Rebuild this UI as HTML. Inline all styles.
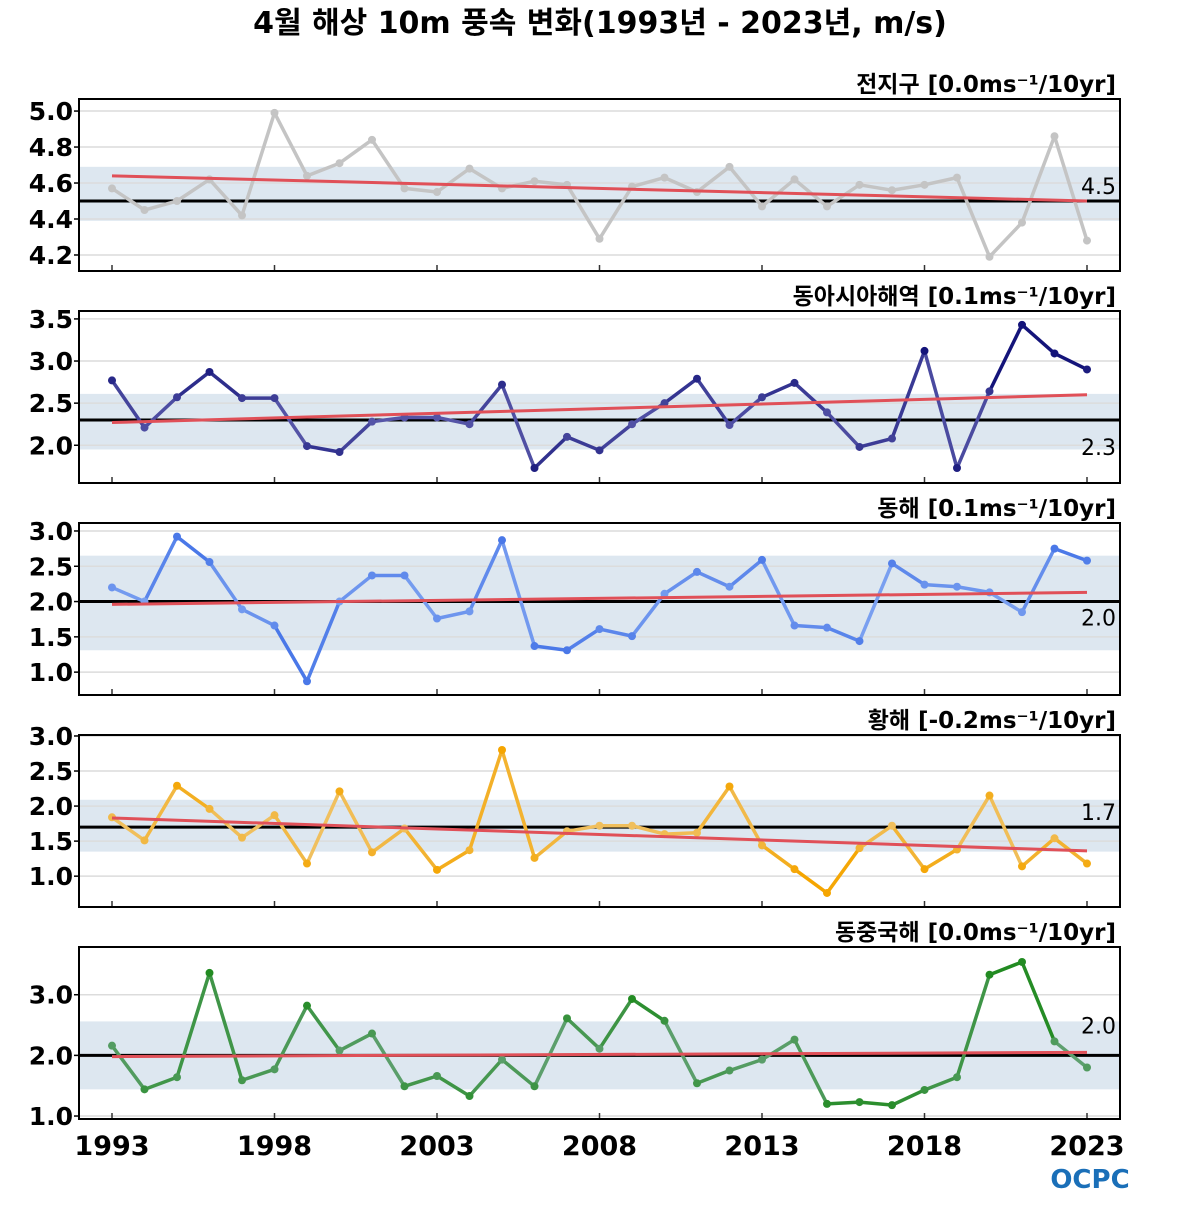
<!DOCTYPE html>
<html><head><meta charset="utf-8"><style>
body{margin:0;background:#fff;width:1200px;height:1200px;overflow:hidden}
svg{font-family:"DejaVu Sans","Liberation Sans","Noto Sans CJK KR",sans-serif}
</style></head><body>
<svg id="chart" width="1200" height="1200" xmlns="http://www.w3.org/2000/svg">
<text x="600" y="33" text-anchor="middle" font-size="30" font-weight="bold">4월 해상 10m 풍속 변화(1993년 - 2023년, m/s)</text>
<text x="1090" y="1188" text-anchor="middle" font-size="26" font-weight="bold" fill="#1a6fb8">OCPC</text>
</svg>
<script>
const years = [1993,1994,1995,1996,1997,1998,1999,2000,2001,2002,2003,2004,2005,2006,2007,2008,2009,2010,2011,2012,2013,2014,2015,2016,2017,2018,2019,2020,2021,2022,2023];
const xTicks = [1993,1998,2003,2008,2013,2018,2023];
const panelTitles = ["전지구 [0.0ms⁻¹/10yr]","동아시아해역 [0.1ms⁻¹/10yr]","동해 [0.1ms⁻¹/10yr]","황해 [-0.2ms⁻¹/10yr]","동중국해 [0.0ms⁻¹/10yr]"];
const globalVals = [4.57,4.45,4.50,4.62,4.42,4.99,4.64,4.71,4.84,4.57,4.55,4.68,4.57,4.61,4.59,4.29,4.58,4.63,4.55,4.69,4.47,4.62,4.47,4.59,4.56,4.59,4.63,4.19,4.38,4.86,4.28];
const eastAsiaVals = [2.77,2.21,2.57,2.87,2.56,2.56,1.99,1.92,2.28,2.33,2.33,2.25,2.72,1.73,2.10,1.94,2.25,2.50,2.79,2.24,2.57,2.74,2.39,1.98,2.08,3.12,1.73,2.64,3.43,3.09,2.90];
const eastSeaVals = [2.20,2.00,2.92,2.56,1.89,1.66,0.87,2.00,2.37,2.37,1.76,1.86,2.87,1.37,1.31,1.61,1.51,2.11,2.42,2.21,2.59,1.66,1.63,1.44,2.54,2.24,2.21,2.13,1.85,2.75,2.58];
const yellowSeaVals = [1.84,1.51,2.29,1.96,1.55,1.87,1.18,2.21,1.34,1.68,1.09,1.37,2.80,1.26,1.64,1.72,1.72,1.60,1.62,2.28,1.44,1.10,0.76,1.40,1.72,1.10,1.38,2.15,1.14,1.54,1.18];
const ecsVals = [2.16,1.44,1.64,3.36,1.59,1.77,2.82,2.08,2.36,1.49,1.66,1.33,1.93,1.49,2.61,2.11,2.93,2.57,1.54,1.75,1.93,2.26,1.20,1.23,1.18,1.43,1.64,3.33,3.54,2.23,1.80];
const means = [4.5,2.3,2.0,1.7,2.0];
const bandLow = [4.39,1.95,1.31,1.35,1.44];
const bandHigh = [4.69,2.61,2.65,2.09,2.56];
const trendStart = [4.64,2.27,1.96,1.83,1.98];
const trendEnd = [4.50,2.60,2.13,1.36,2.05];
const yTicks1 = [4.2,4.4,4.6,4.8,5.0];
const yTicks2 = [2.0,2.5,3.0,3.5];
const yTicks3 = [1.0,1.5,2.0,2.5,3.0];
const yTicks4 = [1.0,1.5,2.0,2.5,3.0];
const yTicks5 = [1.0,2.0,3.0];

const series=[globalVals,eastAsiaVals,eastSeaVals,yellowSeaVals,ecsVals];
const ticksAll=[yTicks1,yTicks2,yTicks3,yTicks4,yTicks5];
const names=["global","east-asia","east-sea","yellow-sea","east-china-sea"];
const panels=[{top:99,y0:4.111,y1:5.067},{top:311,y0:1.552,y1:3.594},{top:523,y0:0.676,y1:3.113},{top:735,y0:0.560,y1:3.014},{top:947,y0:0.951,y1:3.787}];
const colors=[["#c4c4c4","#c4c4c4"],["#5656a8","#14147a"],["#7aa0f0","#4a78e8"],["#f0c060","#f5a500"],["#5fa070","#228b22"]];
const labelOffset=[-7,35,24,-7,-22];
const L=79,R=1120,H=172;
const NS="http://www.w3.org/2000/svg";
const svg=document.getElementById('chart');
function xS(yr){return 112+(yr-1993)*(1087-112)/30;}
function mk(tag,attrs,parent){const e=document.createElementNS(NS,tag);for(const k in attrs)e.setAttribute(k,attrs[k]);(parent||svg).appendChild(e);return e;}
function mix(a,b,t){const pa=[1,3,5].map(i=>parseInt(a.substr(i,2),16)),pb=[1,3,5].map(i=>parseInt(b.substr(i,2),16));return 'rgb('+pa.map((v,i)=>Math.round(v+(pb[i]-v)*t)).join(',')+')';}
panels.forEach((p,i)=>{
  const yS=v=>p.top+H-(v-p.y0)/(p.y1-p.y0)*H;
  const g=mk('g',{});
  
  
  const band=mk('rect',{x:L,y:yS(bandHigh[i]),width:R-L,height:yS(bandLow[i])-yS(bandHigh[i]),fill:'#dde7f0'},g);
  
  
  ticksAll[i].forEach(t=>{
    const gl=mk('line',{x1:L,x2:R,y1:yS(t),y2:yS(t),stroke:'#dcdcdc','stroke-width':1.5},g);
    
    
    mk('line',{x1:L-5,x2:L,y1:yS(t),y2:yS(t),stroke:'#000','stroke-width':1.5},g);
    const tl=mk('text',{x:L-6,y:yS(t)+9,'text-anchor':'end','font-size':25,'font-weight':'bold'},g);
    tl.textContent=t.toFixed(1);
    
    
  });
  xTicks.forEach(yr=>{mk('line',{x1:xS(yr),x2:xS(yr),y1:p.top+H-6,y2:p.top+H,stroke:'#333','stroke-width':1.5},g);});
  const ml=mk('line',{x1:L,x2:R,y1:yS(means[i]),y2:yS(means[i]),stroke:'#000','stroke-width':3},g);
  
  
  const mt=mk('text',{x:R-4,y:yS(means[i])+labelOffset[i],'text-anchor':'end','font-size':22},g);
  mt.textContent=means[i].toFixed(1);
  
  
  const vals=series[i];
  const dev=Math.max(...vals.map(v=>Math.abs(v-means[i])));
  const col=v=>mix(colors[i][0],colors[i][1],Math.min(1,Math.abs(v-means[i])/(dev*0.6)));
  for(let k=0;k<vals.length-1;k++){
    const s=mk('line',{x1:xS(years[k]),y1:yS(vals[k]),x2:xS(years[k+1]),y2:yS(vals[k+1]),stroke:col((vals[k]+vals[k+1])/2),'stroke-width':3.5,'stroke-linecap':'round'},g);
    
    
  }
  vals.forEach((v,k)=>{
    const c=mk('circle',{cx:xS(years[k]),cy:yS(v),r:4,fill:col(v)},g);
    
    
  });
  const tr=mk('line',{x1:xS(1993),y1:yS(trendStart[i]),x2:xS(2023),y2:yS(trendEnd[i]),stroke:'#e05058','stroke-width':3},g);
  
  
  const fr=mk('rect',{x:L,y:p.top,width:R-L,height:H,fill:'none',stroke:'#000','stroke-width':2},g);
  
  
  const pt=mk('text',{x:1116,y:p.top-7,'text-anchor':'end','font-size':23,'font-weight':'bold'},g);
  pt.textContent=panelTitles[i];
  
  
});
xTicks.forEach(yr=>{
  const t=mk('text',{x:xS(yr),y:1155,'text-anchor':'middle','font-size':27,'font-weight':'bold'});
  t.textContent=yr;
  
  
});
</script>
</body></html>
